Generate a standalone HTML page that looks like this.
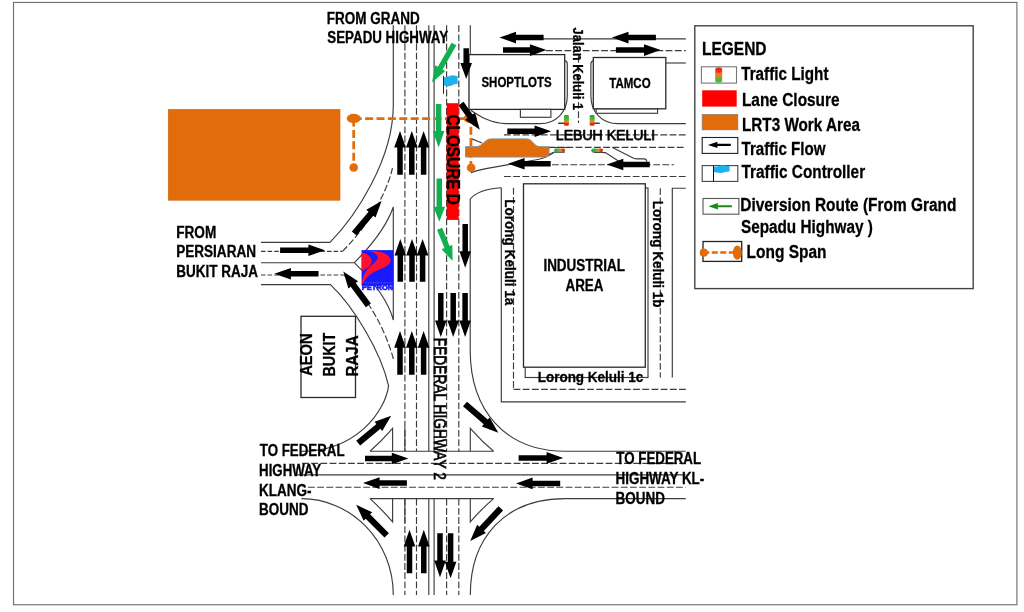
<!DOCTYPE html>
<html lang="en">
<head>
<meta charset="utf-8">
<title>Traffic Diversion Plan</title>
<style>
html,body{margin:0;padding:0;background:#fff;}
body{width:1024px;height:612px;overflow:hidden;}
svg{display:block;will-change:transform;font-family:"Liberation Sans",sans-serif;}
</style>
</head>
<body>
<svg width="1024" height="612" viewBox="0 0 1024 612">
<rect x="0" y="0" width="1024" height="612" fill="#fff"/>
<rect x="13.5" y="2.45" width="1003.4" height="602.3" fill="none" stroke="#707070" stroke-width="1.15"/>
<path d="M393.3,25.2 L393.3,105 C393.3,160 355,217 330,242.4 L261,242.4" stroke="#3c3c3c" stroke-width="1.15" fill="none"/>
<path d="M404.9,25.2L404.9,451.3" stroke="#3c3c3c" stroke-width="1.15" fill="none" stroke-dasharray="6.8 2.4"/>
<path d="M416.5,25.2L416.5,451.3" stroke="#3c3c3c" stroke-width="1.15" fill="none" stroke-dasharray="6.8 2.4"/>
<path d="M428.8,25.2L428.8,451.3" stroke="#3c3c3c" stroke-width="1.15" fill="none"/>
<path d="M434.1,25.2L434.1,451.3" stroke="#3c3c3c" stroke-width="1.15" fill="none"/>
<path d="M446.6,25.2L446.6,451.3" stroke="#3c3c3c" stroke-width="1.15" fill="none" stroke-dasharray="6.8 2.4"/>
<path d="M458.8,25.2L458.8,451.3" stroke="#3c3c3c" stroke-width="1.15" fill="none" stroke-dasharray="6.8 2.4"/>
<path d="M470.3,25.2L470.3,54.6" stroke="#3c3c3c" stroke-width="1.15" fill="none"/>
<path d="M404.9,498.7L404.9,595" stroke="#3c3c3c" stroke-width="1.15" fill="none" stroke-dasharray="6.8 2.4"/>
<path d="M416.5,498.7L416.5,595" stroke="#3c3c3c" stroke-width="1.15" fill="none" stroke-dasharray="6.8 2.4"/>
<path d="M428.8,498.7L428.8,595" stroke="#3c3c3c" stroke-width="1.15" fill="none"/>
<path d="M434.1,498.7L434.1,595" stroke="#3c3c3c" stroke-width="1.15" fill="none"/>
<path d="M446.6,498.7L446.6,595" stroke="#3c3c3c" stroke-width="1.15" fill="none" stroke-dasharray="6.8 2.4"/>
<path d="M458.8,498.7L458.8,595" stroke="#3c3c3c" stroke-width="1.15" fill="none" stroke-dasharray="6.8 2.4"/>
<path d="M404.9,427.5L404.9,451.3" stroke="#3c3c3c" stroke-width="1.15" fill="none"/>
<path d="M404.9,498.7L404.9,523" stroke="#3c3c3c" stroke-width="1.15" fill="none"/>
<path d="M261,251.3L342.5,251.3" stroke="#3c3c3c" stroke-width="1.15" fill="none" stroke-dasharray="4.6 2"/>
<path d="M342.5,251.3 C362,232 385,200 392.5,168" stroke="#3c3c3c" stroke-width="1.15" fill="none" stroke-dasharray="6.8 2.4"/>
<path d="M261,262.7 L354.3,262.7" stroke="#3c3c3c" stroke-width="1.15" fill="none"/>
<path d="M354.3,262.7 C372,245 387,225 393.3,207 L393.3,320 C388,300 372,280 354.3,262.7" stroke="#3c3c3c" stroke-width="1.15" fill="none"/>
<path d="M261,275L344,275" stroke="#3c3c3c" stroke-width="1.15" fill="none" stroke-dasharray="4.6 2"/>
<path d="M344,275 C366,296 384,325 393.4,359" stroke="#3c3c3c" stroke-width="1.15" fill="none" stroke-dasharray="6.8 2.4"/>
<path d="M261,284.6 L330.5,284.6 C354,307 381,352 388.6,385.8 C385,412 356,451.3 301.5,451.3" stroke="#3c3c3c" stroke-width="1.15" fill="none"/>
<path d="M302,463.4L685.7,463.4" stroke="#3c3c3c" stroke-width="1.15" fill="none" stroke-dasharray="6.8 2.4"/>
<path d="M295.5,474.8L685.7,474.8" stroke="#3c3c3c" stroke-width="1.15" fill="none"/>
<path d="M308,487.2L685.7,487.2" stroke="#3c3c3c" stroke-width="1.15" fill="none" stroke-dasharray="6.8 2.4"/>
<path d="M370,451.2L493.6,451.2" stroke="#3c3c3c" stroke-width="1.15" fill="none"/>
<path d="M370,498.6L493.6,498.6" stroke="#3c3c3c" stroke-width="1.15" fill="none"/>
<path d="M370,451.2 Q381.9,440.6 392.6,428.3 L392.6,451.2" stroke="#3c3c3c" stroke-width="1.15" fill="none"/>
<path d="M493.6,451.2 Q481,440.6 470.3,428.3 L470.3,451.2" stroke="#3c3c3c" stroke-width="1.15" fill="none"/>
<path d="M370,498.6 Q381.9,509.4 392.6,521.9 L392.6,498.6" stroke="#3c3c3c" stroke-width="1.15" fill="none"/>
<path d="M493.6,498.6 Q481,509.4 470.3,521.9 L470.3,498.6" stroke="#3c3c3c" stroke-width="1.15" fill="none"/>
<path d="M301.5,498.6 C350,498.6 393.3,540 393.3,595" stroke="#3c3c3c" stroke-width="1.15" fill="none"/>
<path d="M685.7,498.6 L565,498.6 C505,498.6 470.3,538 470.3,595" stroke="#3c3c3c" stroke-width="1.15" fill="none"/>
<path d="M501.3,187.7 C488,188.5 476,192 470.2,199 L470.2,350 C470.2,410 505,451.2 565,451.2 L685.7,451.2" stroke="#3c3c3c" stroke-width="1.15" fill="none"/>
<path d="M470.8,110.2 C478,115 490,123.6 506,123.6 L540,123.6 C556,123.6 567.3,112 567.3,96 L567.3,64 Q567.3,61 564.6,60.5" stroke="#3c3c3c" stroke-width="1.15" fill="none"/>
<rect x="469" y="54.6" width="95.7" height="54.8" fill="#fff" stroke="#2a2a2a" stroke-width="1.3"/>
<rect x="520.4" y="109.4" width="30.5" height="7.9" fill="#fff" stroke="#3c3c3c" stroke-width="1.15"/>
<path d="M685.8,123.6 L618,123.6 C602,123.6 590.9,112 590.9,96 L590.9,64 Q590.9,61 593.5,60.5" stroke="#3c3c3c" stroke-width="1.15" fill="none"/>
<rect x="596.2" y="108.7" width="61.4" height="4.6" fill="#fff" stroke="#3c3c3c" stroke-width="1.15"/>
<rect x="593.3" y="57.5" width="72.5" height="51.3" fill="#fff" stroke="#2a2a2a" stroke-width="1.3"/>
<path d="M541,38.8L685.8,38.8" stroke="#3c3c3c" stroke-width="1.15" fill="none"/>
<path d="M546,50.6L685.8,50.6" stroke="#3c3c3c" stroke-width="1.15" fill="none" stroke-dasharray="6.8 2.4"/>
<path d="M665.8,63L685.8,63" stroke="#3c3c3c" stroke-width="1.15" fill="none"/>
<path d="M578.5,56L578.5,123" stroke="#3c3c3c" stroke-width="1.15" fill="none" stroke-dasharray="6.8 2.4"/>
<path d="M504,134.8L685.8,134.8" stroke="#3c3c3c" stroke-width="1.15" fill="none" stroke-dasharray="6.8 2.4"/>
<path d="M548,147.4L685.8,147.4" stroke="#3c3c3c" stroke-width="1.15" fill="none" stroke-dasharray="6.8 2.4"/>
<path d="M552,164.7L674,164.7" stroke="#3c3c3c" stroke-width="1.15" fill="none" stroke-dasharray="6.8 2.4"/>
<path d="M504,176.5L685.8,176.5" stroke="#3c3c3c" stroke-width="1.15" fill="none" stroke-dasharray="6.8 2.4"/>
<path d="M470.8,172.6 C485,167 520,163.5 540,159 C546,157.5 550,155 554,152.5 M471.2,138.6 L482,143" stroke="#3c3c3c" stroke-width="1.15" fill="none"/>
<path d="M603,152.6 L605.4,152.6 L618.4,161 L622,163.5 M612.5,147.6 L632,157.6 Q634,158.9 637,158.9 L644,158.9 Q646.5,159 646.8,161.5" stroke="#3c3c3c" stroke-width="1.15" fill="none"/>
<rect x="525.2" y="188" width="122.8" height="189.5" fill="#fff" stroke="#3c3c3c" stroke-width="1.15"/>
<rect x="523.5" y="183.8" width="121.8" height="183.4" fill="#fff" stroke="#2a2a2a" stroke-width="1.3"/>
<path d="M501.3,187.7 L501.3,401.9 L685.8,401.9" stroke="#3c3c3c" stroke-width="1.15" fill="none"/>
<path d="M513.5,187.7L513.5,389.4" stroke="#3c3c3c" stroke-width="1.15" fill="none" stroke-dasharray="6.8 2.4"/>
<path d="M513.5,389.4L685.8,389.4" stroke="#3c3c3c" stroke-width="1.15" fill="none" stroke-dasharray="6.8 2.4"/>
<path d="M660.3,188.2L660.3,377.5" stroke="#3c3c3c" stroke-width="1.15" fill="none" stroke-dasharray="6.8 2.4"/>
<path d="M685.8,188.2 L672.3,188.2 L672.3,377.5" stroke="#3c3c3c" stroke-width="1.15" fill="none"/>
<rect x="301" y="316.3" width="54.5" height="81.2" fill="#fff" stroke="#2a2a2a" stroke-width="1.3"/>
<rect x="168.3" y="109.5" width="171.7" height="90.7" fill="#e36c0a" stroke="#cc6a18" stroke-width="0.7"/>
<path d="M465.6,146.7 L476,146.7 C483,146.7 484,138.9 491.5,138.9 L526.5,138.9 C533,138.9 533.5,146.7 540,146.7 L549,146.7 L549,153.5 Q549,157 545.5,157 L465.6,157 Z" stroke="#8c8c8c" stroke-width="1" fill="#e36c0a"/>
<path d="M353.7,118.5 L470.9,118.5 L470.9,167.5 M353.7,118.5 L353.7,167.5" stroke="#e36c0a" stroke-width="2.75" fill="none" stroke-dasharray="8 3.4"/>
<ellipse cx="353.7" cy="118.5" rx="7" ry="4.7" fill="#e36c0a"/>
<ellipse cx="470.3" cy="118.5" rx="6.8" ry="4.5" fill="#e36c0a"/>
<circle cx="353.7" cy="167.5" r="4.3" fill="#e36c0a"/>
<circle cx="471.1" cy="167.7" r="4.3" fill="#e36c0a"/>
<rect x="446.7" y="103.2" width="12" height="116.7" fill="#ff0000"/>
<rect x="361.6" y="250.1" width="31.6" height="35.2" fill="#1a1aff"/>
<path d="M361.6,252.6 C368,253.6 371.8,257.5 371.8,261.3 C371.8,265 367,269 361.6,271 Z" fill="#ff1030"/>
<path d="M369,251 C382,250.6 390.5,254.5 390.5,260.5 C390.5,266 381,268.5 374,272 C368.5,275 365.5,278.5 363.5,283 L362,283 C362.3,277 364.5,272 369,267.5 C374,262.8 377.8,260.5 377.8,257.5 C377.8,255 374.5,252.6 369,251 Z" fill="#ff1030"/>
<path d="M365,282.8 L392.5,282.8" stroke="#7a7aff" stroke-width="0.6" stroke-dasharray="1 0.6" fill="none"/>
<text transform="translate(361.79,289.9)" font-size="8" font-weight="bold" fill="#1a1aff" stroke="#1a1aff" stroke-width="0.7" text-anchor="start" textLength="31.41" lengthAdjust="spacingAndGlyphs">PETRON</text>
<defs>
<linearGradient id="tlv" x1="0" y1="0" x2="0" y2="1"><stop offset="0" stop-color="#2f9e36"/><stop offset="0.45" stop-color="#58b83a"/><stop offset="0.62" stop-color="#e8901c"/><stop offset="0.8" stop-color="#ee2a14"/><stop offset="1" stop-color="#e8281c"/></linearGradient>
<linearGradient id="tlh" x1="0" y1="0" x2="1" y2="0"><stop offset="0" stop-color="#2f9e36"/><stop offset="0.45" stop-color="#58b83a"/><stop offset="0.62" stop-color="#e8901c"/><stop offset="0.8" stop-color="#ee2a14"/><stop offset="1" stop-color="#e8281c"/></linearGradient>
<linearGradient id="tll" x1="0" y1="0" x2="0" y2="1"><stop offset="0" stop-color="#e8281c"/><stop offset="0.5" stop-color="#f08020"/><stop offset="1" stop-color="#3cb043"/></linearGradient>
</defs>
<path d="M558.1,123.2L565,123.2" stroke="#111" stroke-width="1.2" fill="none"/>
<rect x="564" y="115" width="4.9" height="10.7" rx="1.2" fill="url(#tlv)"/>
<path d="M593.5,123.2L599.7,123.2" stroke="#111" stroke-width="1.2" fill="none"/>
<rect x="589.7" y="115" width="4.9" height="10.7" rx="1.2" fill="url(#tlv)"/>
<path d="M549,154.4 L553.2,152.3 L564.8,152.3" stroke="#444" stroke-width="1" fill="none"/>
<rect x="554.2" y="148.4" width="10.8" height="3.7" rx="1.6" fill="url(#tlh)"/>
<path d="M591.6,150 Q591.8,152.5 594.5,152.5 L603.5,152.5" stroke="#444" stroke-width="1" fill="none"/>
<rect x="591.6" y="148.4" width="11.4" height="3.7" rx="1.6" fill="url(#tlh)"/>
<path d="M549.5,147.5L569.5,147.5" stroke="#3c3c3c" stroke-width="1.15" fill="none"/>
<path d="M443.5,76L443.5,93.8" stroke="#222" stroke-width="1" fill="none"/>
<path d="M443.9,77 C447,78 450,75 454,75.4 C456,75.6 457,76 457.6,76.2 L457.6,84 C454,83.5 451,86.5 448,86.3 C446,86.2 445,85.6 443.9,85.2 Z" fill="#1fb0ee"/>
<text transform="translate(326.79,23.8)" font-size="16" font-weight="bold" fill="#000" stroke="#000" stroke-width="0.3" text-anchor="start" textLength="92.9" lengthAdjust="spacingAndGlyphs">FROM GRAND</text>
<text transform="translate(327.3,43)" font-size="16" font-weight="bold" fill="#000" stroke="#000" stroke-width="0.3" text-anchor="start" textLength="120.83" lengthAdjust="spacingAndGlyphs">SEPADU HIGHWAY</text>
<text transform="translate(176.18,237.5)" font-size="16" font-weight="bold" fill="#000" stroke="#000" stroke-width="0.3" text-anchor="start" textLength="40.06" lengthAdjust="spacingAndGlyphs">FROM</text>
<text transform="translate(176.19,257.2)" font-size="16" font-weight="bold" fill="#000" stroke="#000" stroke-width="0.3" text-anchor="start" textLength="79.83" lengthAdjust="spacingAndGlyphs">PERSIARAN</text>
<text transform="translate(176.19,276.8)" font-size="16" font-weight="bold" fill="#000" stroke="#000" stroke-width="0.3" text-anchor="start" textLength="81.79" lengthAdjust="spacingAndGlyphs">BUKIT RAJA</text>
<text transform="translate(312.4,375.87) rotate(-90)" font-size="17.3" font-weight="bold" fill="#000" stroke="#000" stroke-width="0.3" text-anchor="start" textLength="42.55" lengthAdjust="spacingAndGlyphs">AEON</text>
<text transform="translate(334.5,376.46) rotate(-90)" font-size="17.3" font-weight="bold" fill="#000" stroke="#000" stroke-width="0.3" text-anchor="start" textLength="43.61" lengthAdjust="spacingAndGlyphs">BUKIT</text>
<text transform="translate(357.5,376.52) rotate(-90)" font-size="17.3" font-weight="bold" fill="#000" stroke="#000" stroke-width="0.3" text-anchor="start" textLength="41.04" lengthAdjust="spacingAndGlyphs">RAJA</text>
<text transform="translate(259.83,456.3)" font-size="16" font-weight="bold" fill="#000" stroke="#000" stroke-width="0.3" text-anchor="start" textLength="84.68" lengthAdjust="spacingAndGlyphs">TO FEDERAL</text>
<text transform="translate(259.11,476.1)" font-size="16" font-weight="bold" fill="#000" stroke="#000" stroke-width="0.3" text-anchor="start" textLength="62.11" lengthAdjust="spacingAndGlyphs">HIGHWAY</text>
<text transform="translate(259.09,496)" font-size="16" font-weight="bold" fill="#000" stroke="#000" stroke-width="0.3" text-anchor="start" textLength="52.46" lengthAdjust="spacingAndGlyphs">KLANG-</text>
<text transform="translate(259.09,515.4)" font-size="16" font-weight="bold" fill="#000" stroke="#000" stroke-width="0.3" text-anchor="start" textLength="49.27" lengthAdjust="spacingAndGlyphs">BOUND</text>
<text transform="translate(616.33,464.2)" font-size="16" font-weight="bold" fill="#000" stroke="#000" stroke-width="0.3" text-anchor="start" textLength="84.78" lengthAdjust="spacingAndGlyphs">TO FEDERAL</text>
<text transform="translate(615.6,484.2)" font-size="16" font-weight="bold" fill="#000" stroke="#000" stroke-width="0.3" text-anchor="start" textLength="88.63" lengthAdjust="spacingAndGlyphs">HIGHWAY KL-</text>
<text transform="translate(615.59,503.6)" font-size="16" font-weight="bold" fill="#000" stroke="#000" stroke-width="0.3" text-anchor="start" textLength="49.27" lengthAdjust="spacingAndGlyphs">BOUND</text>
<text transform="translate(481.46,86.9)" font-size="14.5" font-weight="bold" fill="#000" stroke="#000" stroke-width="0.3" text-anchor="start" textLength="70.19" lengthAdjust="spacingAndGlyphs">SHOPTLOTS</text>
<text transform="translate(609.26,87.9)" font-size="14.5" font-weight="bold" fill="#000" stroke="#000" stroke-width="0.3" text-anchor="start" textLength="41.33" lengthAdjust="spacingAndGlyphs">TAMCO</text>
<text transform="translate(543.39,271.4)" font-size="16" font-weight="bold" fill="#000" stroke="#000" stroke-width="0.3" text-anchor="start" textLength="81.62" lengthAdjust="spacingAndGlyphs">INDUSTRIAL</text>
<text transform="translate(565.46,291.3)" font-size="16" font-weight="bold" fill="#000" stroke="#000" stroke-width="0.3" text-anchor="start" textLength="37.98" lengthAdjust="spacingAndGlyphs">AREA</text>
<text transform="translate(555.84,139.8)" font-size="15" font-weight="normal" fill="#000" stroke="#000" stroke-width="0.75" text-anchor="start" textLength="99.28" lengthAdjust="spacingAndGlyphs">LEBUH KELULI</text>
<text transform="translate(537.69,381.9)" font-size="15.5" font-weight="bold" fill="#000" stroke="#000" stroke-width="0.3" text-anchor="start" textLength="105.6" lengthAdjust="spacingAndGlyphs">Lorong Keluli 1c</text>
<text transform="translate(572.8,27.61) rotate(90)" font-size="15.5" font-weight="bold" fill="#000" stroke="#000" stroke-width="0.3" text-anchor="start" textLength="82.57" lengthAdjust="spacingAndGlyphs">Jalan Keluli 1</text>
<text transform="translate(504.9,199.19) rotate(90)" font-size="15.5" font-weight="bold" fill="#000" stroke="#000" stroke-width="0.3" text-anchor="start" textLength="106.14" lengthAdjust="spacingAndGlyphs">Lorong Keluli 1a</text>
<text transform="translate(653,200.79) rotate(90)" font-size="15.5" font-weight="bold" fill="#000" stroke="#000" stroke-width="0.3" text-anchor="start" textLength="106.78" lengthAdjust="spacingAndGlyphs">Lorong Keluli 1b</text>
<text transform="translate(434.4,337.77) rotate(90)" font-size="16.5" font-weight="normal" fill="#000" stroke="#000" stroke-width="0.7" text-anchor="start" textLength="142.13" lengthAdjust="spacingAndGlyphs">FEDERAL HIGHWAY 2</text>
<text transform="translate(446.6,114.49) rotate(90)" font-size="18.67" font-weight="bold" fill="#000" stroke="#000" stroke-width="0.3" text-anchor="start" textLength="90.35" lengthAdjust="spacingAndGlyphs">CLOSURE D</text>
<rect x="694.8" y="25.8" width="278.4" height="262.8" fill="#fff" stroke="#444" stroke-width="1.4"/>
<text transform="translate(701.95,55.3)" font-size="18.67" font-weight="bold" fill="#000" stroke="#000" stroke-width="0.3" text-anchor="start" textLength="64.6" lengthAdjust="spacingAndGlyphs">LEGEND</text>
<rect x="701.4" y="66.8" width="35.1" height="16.3" fill="#fff" stroke="#777" stroke-width="1.1"/>
<rect x="715.2" y="67.6" width="7" height="14.8" rx="2" fill="url(#tll)"/>
<circle cx="718.7" cy="70.3" r="2.6" fill="#f02818"/><circle cx="718.7" cy="75" r="2.4" fill="#f47a20"/><circle cx="718.7" cy="79.8" r="2.6" fill="#44c040"/>
<text transform="translate(741.21,79.9)" font-size="18.67" font-weight="bold" fill="#000" stroke="#000" stroke-width="0.3" text-anchor="start" textLength="87.28" lengthAdjust="spacingAndGlyphs">Traffic Light</text>
<rect x="702.2" y="90.3" width="34.5" height="16.3" fill="#ff0000"/>
<text transform="translate(741.96,106)" font-size="18.67" font-weight="bold" fill="#000" stroke="#000" stroke-width="0.3" text-anchor="start" textLength="97.64" lengthAdjust="spacingAndGlyphs">Lane Closure</text>
<rect x="702.2" y="114.6" width="35.6" height="15.2" fill="#e36c0a" stroke="#8a7a6a" stroke-width="0.8"/>
<text transform="translate(741.97,130.8)" font-size="18.67" font-weight="bold" fill="#000" stroke="#000" stroke-width="0.3" text-anchor="start" textLength="117.95" lengthAdjust="spacingAndGlyphs">LRT3 Work Area</text>
<rect x="702.2" y="137.5" width="35.6" height="15.9" fill="#fff" stroke="#222" stroke-width="1.1"/>
<polygon points="730.8,143.85 717.4,143.85 717.4,141.7 707.9,144.9 717.4,148.1 717.4,145.95 730.8,145.95" fill="#000"/>
<text transform="translate(741.51,154.9)" font-size="18.67" font-weight="bold" fill="#000" stroke="#000" stroke-width="0.3" text-anchor="start" textLength="84.07" lengthAdjust="spacingAndGlyphs">Traffic Flow</text>
<rect x="702.2" y="165.6" width="35.6" height="15.8" fill="#fff" stroke="#444" stroke-width="1.1"/>
<path d="M713.5,165.6L713.5,181.6" stroke="#111" stroke-width="1" fill="none"/>
<path d="M714,166.6 C717,167.4 720,165 724,165.4 C726.5,165.6 728.5,166 729.6,166.2 L729.6,171.6 C726,171.2 723,173.2 720,173 C717.5,172.9 715.5,172.4 714,172 Z" fill="#1fb0ee"/>
<text transform="translate(741.51,178.3)" font-size="18.67" font-weight="bold" fill="#000" stroke="#000" stroke-width="0.3" text-anchor="start" textLength="123.61" lengthAdjust="spacingAndGlyphs">Traffic Controller</text>
<rect x="703" y="198.5" width="35.9" height="15.7" fill="#fff" stroke="#555" stroke-width="1.1"/>
<polygon points="731.9,205.25 717.9,205.25 717.9,203.1 708.4,206.3 717.9,209.5 717.9,207.35 731.9,207.35" fill="#1a8a1a"/>
<text transform="translate(740.36,210.9)" font-size="18.67" font-weight="bold" fill="#000" stroke="#000" stroke-width="0.3" text-anchor="start" textLength="215.97" lengthAdjust="spacingAndGlyphs">Diversion Route (From Grand</text>
<text transform="translate(740.94,233.3)" font-size="18.67" font-weight="bold" fill="#000" stroke="#000" stroke-width="0.3" text-anchor="start" textLength="131.83" lengthAdjust="spacingAndGlyphs">Sepadu Highway )</text>
<rect x="703" y="241.5" width="38.7" height="19.9" fill="#fff" stroke="#222" stroke-width="1.3"/>
<path d="M703.3,252.5 L737.5,252.5" stroke="#e36c0a" stroke-width="2.6" fill="none" stroke-dasharray="6 2.5"/>
<circle cx="703.8" cy="252.6" r="4.1" fill="#e36c0a"/>
<ellipse cx="737.3" cy="252.6" rx="4.4" ry="7.2" fill="#e36c0a"/>
<text transform="translate(746.56,257.8)" font-size="18.67" font-weight="bold" fill="#000" stroke="#000" stroke-width="0.3" text-anchor="start" textLength="79.89" lengthAdjust="spacingAndGlyphs">Long Span</text>
<polygon points="402.75,174.7 402.75,147.6 405.8,147.6 400,131 394.2,147.6 397.25,147.6 397.25,174.7" fill="#000"/>
<polygon points="402.75,374.7 402.75,347.7 405.8,347.7 400,331.1 394.2,347.7 397.25,347.7 397.25,374.7" fill="#000"/>
<polygon points="414.55,174.7 414.55,147.6 417.6,147.6 411.8,131 406.0,147.6 409.05,147.6 409.05,174.7" fill="#000"/>
<polygon points="414.55,374.7 414.55,347.7 417.6,347.7 411.8,331.1 406.0,347.7 409.05,347.7 409.05,374.7" fill="#000"/>
<polygon points="426.35,174.7 426.35,147.6 429.4,147.6 423.6,131 417.8,147.6 420.85,147.6 420.85,174.7" fill="#000"/>
<polygon points="426.35,374.7 426.35,347.7 429.4,347.7 423.6,331.1 417.8,347.7 420.85,347.7 420.85,374.7" fill="#000"/>
<polygon points="403.05,281.8 403.05,255.6 406.1,255.6 400.3,239 394.5,255.6 397.55,255.6 397.55,281.8" fill="#000"/>
<polygon points="414.75,281.8 414.75,255.6 417.8,255.6 412,239 406.2,255.6 409.25,255.6 409.25,281.8" fill="#000"/>
<polygon points="425.35,281.8 425.35,255.6 428.4,255.6 422.6,239 416.8,255.6 419.85,255.6 419.85,281.8" fill="#000"/>
<polygon points="412.25,573.3 412.25,546.4 415.3,546.4 409.5,529.8 403.7,546.4 406.75,546.4 406.75,573.3" fill="#000"/>
<polygon points="426.55,573.3 426.55,546.4 429.6,546.4 423.8,529.8 418.0,546.4 421.05,546.4 421.05,573.3" fill="#000"/>
<polygon points="463.45,48.3 463.45,62.9 460.4,62.9 466.2,78.9 472.0,62.9 468.95,62.9 468.95,48.3" fill="#000"/>
<polygon points="462.45,224.1 462.45,251.2 459.4,251.2 465.2,267.8 471.0,251.2 467.95,251.2 467.95,224.1" fill="#000"/>
<polygon points="438.05,293.0 438.05,320.4 435.0,320.4 440.8,337 446.6,320.4 443.55,320.4 443.55,293.0" fill="#000"/>
<polygon points="450.45,293.0 450.45,320.4 447.4,320.4 453.2,337 459.0,320.4 455.95,320.4 455.95,293.0" fill="#000"/>
<polygon points="462.35,293.0 462.35,320.4 459.3,320.4 465.1,337 470.9,320.4 467.85,320.4 467.85,293.0" fill="#000"/>
<polygon points="437.25,533.3 437.25,560.6 434.2,560.6 440,577.2 445.8,560.6 442.75,560.6 442.75,533.3" fill="#000"/>
<polygon points="447.85,533.3 447.85,561.7 444.8,561.7 450.6,578.3 456.4,561.7 453.35,561.7 453.35,533.3" fill="#000"/>
<polygon points="458.48,105.41 467.6,118.12 465.25,119.81 479.8,129.8 475.0,112.81 472.64,114.51 463.52,101.79" fill="#000"/>
<polygon points="356.57,235.59 373.29,215.7 375.51,217.57 381.6,201 366.33,209.85 368.55,211.71 351.83,231.61" fill="#000"/>
<polygon points="370.89,303.45 355.7,283.06 358.03,281.33 343.3,271.6 348.4,288.5 350.73,286.76 365.91,307.15" fill="#000"/>
<polygon points="360.18,445.49 380.41,428.69 382.26,430.92 391.2,415.7 374.6,421.69 376.45,423.92 356.22,440.71" fill="#000"/>
<polygon points="388.9,533.21 370.11,514.37 372.17,512.32 356.2,504.8 363.67,520.79 365.72,518.75 384.5,537.59" fill="#000"/>
<polygon points="462.97,406.34 483.72,424.29 481.82,426.48 498.3,432.8 489.67,417.4 487.77,419.6 467.03,401.66" fill="#000"/>
<polygon points="498.54,506.18 479.28,526.76 477.16,524.78 470.2,541 485.92,532.98 483.81,531.0 503.06,510.42" fill="#000"/>
<polygon points="280.1,252.95 308.4,252.95 308.4,256.0 325,250.2 308.4,244.4 308.4,247.45 280.1,247.45" fill="#000"/>
<polygon points="318.5,270.95 290.9,270.95 290.9,267.9 274.3,273.7 290.9,279.5 290.9,276.45 318.5,276.45" fill="#000"/>
<polygon points="543.6,34.85 516.0,34.85 516.0,31.8 499.4,37.6 516.0,43.4 516.0,40.35 543.6,40.35" fill="#000"/>
<polygon points="503.0,52.85 529.9,52.85 529.9,55.9 546.5,50.1 529.9,44.3 529.9,47.35 503.0,47.35" fill="#000"/>
<polygon points="655.9,34.85 628.5,34.85 628.5,31.8 611.9,37.6 628.5,43.4 628.5,40.35 655.9,40.35" fill="#000"/>
<polygon points="615.9,52.85 644.0,52.85 644.0,55.9 660.6,50.1 644.0,44.3 644.0,47.35 615.9,47.35" fill="#000"/>
<polygon points="507.3,134.05 534.6,134.05 534.6,137.1 551.2,131.3 534.6,125.5 534.6,128.55 507.3,128.55" fill="#000"/>
<polygon points="550.7,161.05 524.6,161.05 524.6,158.0 508,163.8 524.6,169.6 524.6,166.55 550.7,166.55" fill="#000"/>
<polygon points="649.8,161.75 623.3,161.75 623.3,158.7 606.7,164.5 623.3,170.3 623.3,167.25 649.8,167.25" fill="#000"/>
<polygon points="365.0,461.25 391.8,461.25 391.8,464.3 408.4,458.5 391.8,452.7 391.8,455.75 365.0,455.75" fill="#000"/>
<polygon points="406.9,480.35 379.6,480.35 379.6,477.3 363,483.1 379.6,488.9 379.6,485.85 406.9,485.85" fill="#000"/>
<polygon points="518.6,460.65 546.6,460.65 546.6,463.7 563.2,457.9 546.6,452.1 546.6,455.15 518.6,455.15" fill="#000"/>
<polygon points="560.2,480.65 532.6,480.65 532.6,477.6 516,483.4 532.6,489.2 532.6,486.15 560.2,486.15" fill="#000"/>
<polygon points="451.61,42.64 437.85,66.72 435.2,65.21 432,82.5 445.27,70.96 442.62,69.45 456.39,45.36" fill="#10b050"/>
<polygon points="435.85,104.0 435.85,130.9 432.8,130.9 438.6,147.5 444.4,130.9 441.35,130.9 441.35,104.0" fill="#10b050"/>
<polygon points="436.55,178.6 436.55,206.8 433.5,206.8 439.3,221.8 445.1,206.8 442.05,206.8 442.05,178.6" fill="#10b050"/>
<polygon points="437.05,229.83 444.43,248.12 441.61,249.26 452.6,261 452.36,244.92 449.53,246.06 442.15,227.77" fill="#10b050"/>
</svg>
</body>
</html>
